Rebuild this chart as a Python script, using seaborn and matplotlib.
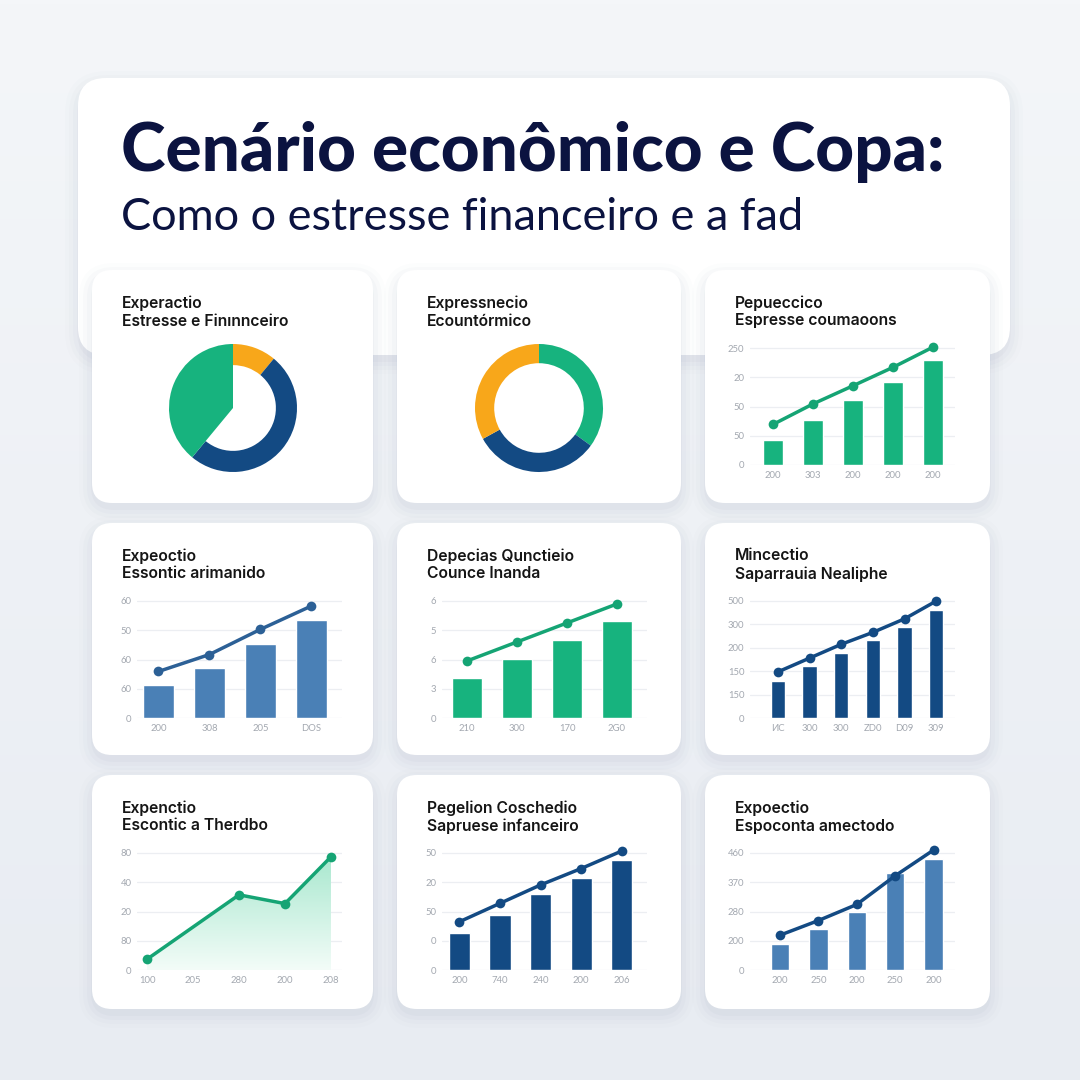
import numpy as np
import matplotlib
matplotlib.use("Agg")
import matplotlib.pyplot as plt
import seaborn as sns
from matplotlib.patches import FancyBboxPatch

sns.set_theme(style="white")
plt.rcParams['font.family'] = ['Lato', 'DejaVu Sans']

# ---- data ----
title = "Cenário econômico e Copa:"
subtitle = "Como o estresse financeiro e a fad"

panel_titles = [
    ("Experactio", "Estresse e Finınnceiro"),
    ("Expressnecio", "Ecountórmico"),
    ("Pepueccico", "Espresse coumaoons"),
    ("Expeoctio", "Essontic arimanido"),
    ("Depecias Qunctieio", "Counce Inanda"),
    ("Mincectio", "Saparrauia Nealiphe"),
    ("Expenctio", "Escontic a Therdbo"),
    ("Pegelion Coschedio", "Sapruese infanceiro"),
    ("Expoectio", "Espoconta amectodo"),
]

donut1_shares = [11, 50, 39]      # orange, navy, green (clockwise from top)
donut2_shares = [35, 32, 33]      # green, navy, orange

p3_bars = [0.87, 1.53, 2.23, 2.85, 3.58]
p3_line = [1.39, 2.09, 2.71, 3.34, 4.03]
p3_xlabels = ["200", "303", "200", "200", "200"]
p3_ylabels = ["0", "50", "50", "20", "250"]

p4_bars = [1.14, 1.72, 2.52, 3.34]
p4_line = [1.59, 2.17, 3.03, 3.83]
p4_xlabels = ["200", "308", "205", "DOS"]
p4_ylabels = ["0", "60", "60", "50", "60"]

p5_bars = [1.37, 2.02, 2.67, 3.32]
p5_line = [1.95, 2.60, 3.25, 3.90]
p5_xlabels = ["210", "300", "170", "2G0"]
p5_ylabels = ["0", "3", "6", "5", "6"]

p6_bars = [1.60, 2.23, 2.77, 3.32, 3.87, 4.62]
p6_line = [1.97, 2.56, 3.15, 3.66, 4.24, 5.00]
p6_xlabels = ["ИC", "300", "300", "ZD0", "D09", "309"]
p6_ylabels = ["0", "150", "150", "200", "300", "500"]

p7_x = [0, 2, 3, 4]
p7_line = [0.37, 2.57, 2.27, 3.87]
p7_xlabels = ["100", "205", "280", "200", "208"]
p7_ylabels = ["0", "80", "20", "40", "80"]

p8_bars = [1.26, 1.89, 2.60, 3.16, 3.75]
p8_line = [1.65, 2.28, 2.91, 3.47, 4.07]
p8_xlabels = ["200", "740", "240", "200", "206"]
p8_ylabels = ["0", "0", "50", "20", "50"]

p9_bars = [0.88, 1.39, 2.00, 3.32, 3.80]
p9_line = [1.19, 1.69, 2.24, 3.22, 4.10]
p9_xlabels = ["200", "250", "200", "250", "200"]
p9_ylabels = ["0", "200", "280", "370", "460"]

GREEN = "#17b37e"
GREEN_D = "#15a474"
NAVY = "#134a83"
STEEL = "#4a80b6"
STEEL_D = "#2c6096"
ORANGE = "#f8a71a"
INK = "#0b1340"
TICK = "#a3a8b0"
GRID = "#eceef2"

W = H = 1080
fig = plt.figure(figsize=(10.8, 10.8), dpi=100)

# background canvas in pixel coordinates (y downwards)
bg = fig.add_axes([0, 0, 1, 1])
bg.set_xlim(0, W)
bg.set_ylim(H, 0)
bg.axis("off")
grad = np.linspace(0, 1, 256).reshape(-1, 1)
bg.imshow(grad, extent=[0, W, H, 0], cmap=matplotlib.colors.LinearSegmentedColormap.from_list(
    "bgc", ["#f4f6f9", "#e8ecf2"]), aspect="auto", zorder=0)


def card(x0, y0, x1, y1, r, z):
    # soft shadow
    for i, a in enumerate([0.05, 0.04, 0.03, 0.02]):
        s = 3 + i * 4
        bg.add_patch(FancyBboxPatch((x0 - s + 2, y0 - s + 8), x1 - x0 + 2 * s - 4, y1 - y0 + 2 * s - 4,
                                    boxstyle=f"round,pad=0,rounding_size={r + s}",
                                    fc="#8a9bb5", ec="none", alpha=a, zorder=z))
    bg.add_patch(FancyBboxPatch((x0, y0), x1 - x0, y1 - y0,
                                boxstyle=f"round,pad=0,rounding_size={r}",
                                fc="white", ec="none", zorder=z + 0.5))


card(78, 78, 1010, 355, 28, 1)

col_x = [(92, 373), (397, 681), (705, 990)]
row_y = [(270, 503), (523, 755), (775, 1009)]
for (ya, yb) in row_y:
    for (xa, xb) in col_x:
        card(xa, ya, xb, yb, 20, 2)

bg.text(121, 152, title, fontsize=48.5, fontweight="black", color=INK, va="center", ha="left", zorder=5)
bg.text(121, 218, subtitle, fontsize=32.5, color=INK, va="center", ha="left", zorder=5)

for k, (l1, l2) in enumerate(panel_titles):
    xa = col_x[k % 3][0]
    ya = row_y[k // 3][0]
    bg.text(xa + 30, ya + 33, l1, fontsize=11.3, fontweight="semibold", color="#151515", va="center",
            family=["Inter", "DejaVu Sans"], zorder=5)
    bg.text(xa + 30, ya + 51, l2, fontsize=11.3, fontweight="semibold", color="#151515", va="center",
            family=["Inter", "DejaVu Sans"], zorder=5)


def px_axes(left, top, right, bottom):
    return fig.add_axes([left / W, 1 - bottom / H, (right - left) / W, (bottom - top) / H])


def donut(cx, cy, r, shares, colors, widths):
    ax = px_axes(cx - r, cy - r, cx + r, cy + r)
    wedges, _ = ax.pie(shares, colors=colors, startangle=90, counterclock=False,
                       wedgeprops=dict(linewidth=0))
    for w, wd in zip(wedges, widths):
        if wd is not None:
            w.set_width(wd)
    ax.set_xlim(-1, 1)
    ax.set_ylim(-1, 1)
    ax.set_aspect("equal")
    ax.axis("off")


donut(233, 408, 64, donut1_shares, [ORANGE, NAVY, GREEN], [0.33, 0.33, None])
donut(539, 408, 64, donut2_shares, [GREEN, NAVY, ORANGE], [0.3, 0.3, 0.3])


def chart_axes(k, ngrid, xlim):
    xa = col_x[k % 3][0]
    ya = row_y[k // 3][0]
    zero = ya + 195
    top_grid = ya + 78
    step = (zero - top_grid) / ngrid
    ytop = ngrid + 0.3
    ax = px_axes(xa + 45, zero - ytop * step, xa + 250, zero)
    ax.set_ylim(0, ytop)
    ax.set_xlim(*xlim)
    ax.patch.set_alpha(0)
    for s in ax.spines.values():
        s.set_visible(False)
    ax.set_yticks(range(ngrid + 1))
    ax.grid(axis="y", color=GRID, lw=0.9)
    ax.grid(axis="x", visible=False)
    ax.tick_params(axis="both", length=0, labelsize=6.8, labelcolor=TICK, pad=4)
    ax.set_axisbelow(True)
    return ax


def bar_line(k, bars, line, xl, yl, xlim, width, bar_c, line_c):
    n = len(bars)
    ax = chart_axes(k, len(yl) - 1, xlim)
    sns.barplot(x=list(range(n)), y=bars, color=bar_c, width=width, saturation=1,
                errorbar=None, ax=ax, zorder=2)
    sns.lineplot(x=list(range(n)), y=line, color=line_c, lw=2.5, marker="o", markersize=7,
                 markeredgewidth=0, ax=ax, zorder=3)
    ax.set_xlim(*xlim)
    ax.set_ylim(0, len(yl) - 1 + 0.3)
    ax.set_xticks(range(n))
    ax.set_xticklabels(xl)
    ax.set_yticklabels(yl)
    ax.set_xlabel("")
    ax.set_ylabel("")


bar_line(2, p3_bars, p3_line, p3_xlabels, p3_ylabels, (-0.58, 4.55), 0.5, GREEN, GREEN_D)
bar_line(3, p4_bars, p4_line, p4_xlabels, p4_ylabels, (-0.42, 3.6), 0.61, STEEL, STEEL_D)
bar_line(4, p5_bars, p5_line, p5_xlabels, p5_ylabels, (-0.5, 3.6), 0.6, GREEN, GREEN_D)
bar_line(5, p6_bars, p6_line, p6_xlabels, p6_ylabels, (-0.88, 5.59), 0.45, NAVY, NAVY)
bar_line(7, p8_bars, p8_line, p8_xlabels, p8_ylabels, (-0.43, 4.62), 0.52, NAVY, NAVY)
bar_line(8, p9_bars, p9_line, p9_xlabels, p9_ylabels, (-0.78, 4.56), 0.48, STEEL, NAVY)

# area chart (panel 7)
ax7 = chart_axes(6, len(p7_ylabels) - 1, (-0.22, 4.24))
poly = ax7.fill_between(p7_x, p7_line, 0, color="none", lw=0)
img = ax7.imshow(np.linspace(1, 0, 256).reshape(-1, 1), extent=[0, 4, 0, max(p7_line)],
                 cmap=matplotlib.colors.LinearSegmentedColormap.from_list("ar", ["#f3fcf8", "#a9e8cf"]),
                 aspect="auto", origin="upper", zorder=1)
img.set_clip_path(poly.get_paths()[0], transform=ax7.transData)
sns.lineplot(x=p7_x, y=p7_line, color=GREEN_D, lw=2.5, marker="o", markersize=7,
             markeredgewidth=0, ax=ax7, zorder=3)
ax7.set_xlim(-0.22, 4.24)
ax7.set_ylim(0, len(p7_ylabels) - 1 + 0.3)
ax7.set_xticks(range(len(p7_xlabels)))
ax7.set_xticklabels(p7_xlabels)
ax7.set_yticklabels(p7_ylabels)
ax7.set_xlabel("")
ax7.set_ylabel("")

fig.savefig("out.png", dpi=100)
